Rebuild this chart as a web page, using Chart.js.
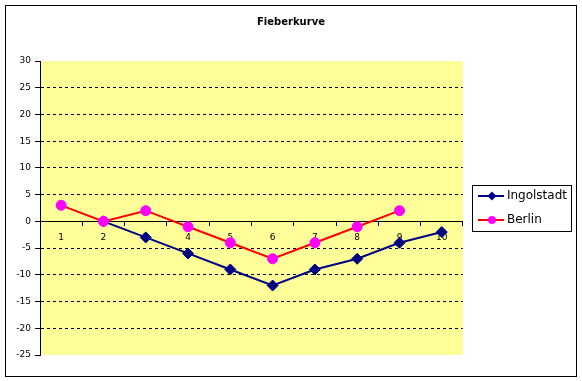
<!DOCTYPE html>
<html><head><meta charset="utf-8">
<script src="https://cdn.jsdelivr.net/npm/chart.js@4"></script>
<style>html,body{margin:0;padding:0;background:#fff;} canvas{display:block;}</style>
</head><body>
<canvas id="c" width="582" height="381"></canvas>
<script>
const chartTitle = 'Fieberkurve';
const categories = ['1', '2', '3', '4', '5', '6', '7', '8', '9', '10'];
const seriesNames = ['Ingolstadt', 'Berlin'];
const ingolstadt = [null, 0, -3, -6, -9, -12, -9, -7, -4, -2];
const berlin = [3, 0, 2, -1, -4, -7, -4, -1, 2, null];
const yMin = -25, yMax = 30, yStep = 5;

const navy = '#000080', red = '#FF0000', magenta = '#FF00FF';

function makeIcon(lineColor, markerColor, marker) {
  const c = document.createElement('canvas');
  c.width = 34; c.height = 12;
  const g = c.getContext('2d');
  g.strokeStyle = lineColor; g.lineWidth = 2;
  g.beginPath(); g.moveTo(7, 6); g.lineTo(33, 6); g.stroke();
  g.fillStyle = markerColor;
  g.beginPath();
  if (marker === 'diamond') {
    g.moveTo(21, 1.5); g.lineTo(25.5, 6); g.lineTo(21, 10.5); g.lineTo(16.5, 6); g.closePath();
  } else {
    g.arc(21, 6, 4, 0, Math.PI * 2);
  }
  g.fill();
  return c;
}
const legendIcons = [makeIcon(navy, navy, 'diamond'), makeIcon(red, magenta, 'circle')];

const decorations = {
  id: 'decorations',
  beforeDraw(chart) {
    const {ctx, chartArea: a} = chart;
    ctx.save();
    ctx.fillStyle = '#FFFF99';
    ctx.fillRect(a.left, a.top, a.right - a.left, a.bottom - a.top);
    ctx.restore();
  },
  afterDraw(chart) {
    const ctx = chart.ctx;
    ctx.save();
    ctx.strokeStyle = '#000';
    ctx.lineWidth = 1;
    ctx.strokeRect(5.5, 5.5, 571, 371);
    const hb = chart.legend.legendHitBoxes;
    if (hb && hb.length) {
      const l = Math.round(hb[0].left - 3);
      const t = Math.round(hb[0].top - 5);
      const r = Math.round(Math.max(...hb.map(h => h.left + h.width)) + 4);
      const last = hb[hb.length - 1];
      const b = Math.round(last.top + last.height + 5);
      ctx.strokeRect(l + 0.5, t + 0.5, r - l, b - t);
    }
    ctx.restore();
  }
};

Chart.defaults.font.family = '"DejaVu Sans", sans-serif';
Chart.defaults.color = '#000';

new Chart(document.getElementById('c'), {
  type: 'line',
  data: {
    labels: categories,
    datasets: [
      {
        label: seriesNames[0], data: ingolstadt, order: 1,
        borderColor: navy, backgroundColor: navy, borderWidth: 2,
        pointStyle: 'rectRot', pointRadius: 5.5, pointBorderWidth: 1,
        pointBackgroundColor: navy, pointBorderColor: navy, tension: 0
      },
      {
        label: seriesNames[1], data: berlin, order: 0,
        borderColor: red, backgroundColor: magenta, borderWidth: 2,
        pointStyle: 'circle', pointRadius: 5, pointBorderWidth: 1,
        pointBackgroundColor: magenta, pointBorderColor: magenta, tension: 0
      }
    ]
  },
  options: {
    responsive: false,
    animation: false,
    devicePixelRatio: 1,
    layout: {padding: {left: 5, right: 5, top: 10, bottom: 26}},
    plugins: {
      title: {
        display: true, text: chartTitle, color: '#000',
        font: {size: 10, weight: 'bold'}, padding: {top: 6, bottom: 33}
      },
      legend: {
        position: 'right',
        fullSize: false,
        labels: {
          usePointStyle: true, pointStyleWidth: 26, padding: 12,
          font: {size: 12}, color: '#000',
          generateLabels: chart => chart.data.datasets.map((ds, i) => ({
            text: ds.label, pointStyle: legendIcons[i], datasetIndex: i,
            hidden: false, lineWidth: 0, fillStyle: 'transparent', strokeStyle: 'transparent', fontColor: '#000'
          }))
        }
      },
      tooltip: {enabled: false}
    },
    scales: {
      x: {
        type: 'category',
        position: {y: 0},
        offset: true,
        grid: {display: true, drawOnChartArea: false, offset: true, drawTicks: true, tickLength: 4, color: '#000', tickColor: '#000'},
        border: {display: true, color: '#000', width: 1},
        ticks: {font: {size: 9}, color: '#000', padding: 7, maxRotation: 0, autoSkip: false}
      },
      y: {
        min: yMin, max: yMax,
        afterFit: s => { s.width = 35; },
        ticks: {stepSize: yStep, font: {size: 9}, color: '#000', padding: 4},
        grid: {
          drawTicks: true, tickLength: 5, tickColor: '#000',
          color: c => (c.tick && (c.tick.value === yMax || c.tick.value === yMin || c.tick.value === 0)) ? 'rgba(0,0,0,0)' : '#000',
          lineWidth: 1
        },
        border: {display: true, color: '#000', width: 1, dash: [3, 3]}
      }
    }
  },
  plugins: [decorations]
});
</script>
</body></html>
